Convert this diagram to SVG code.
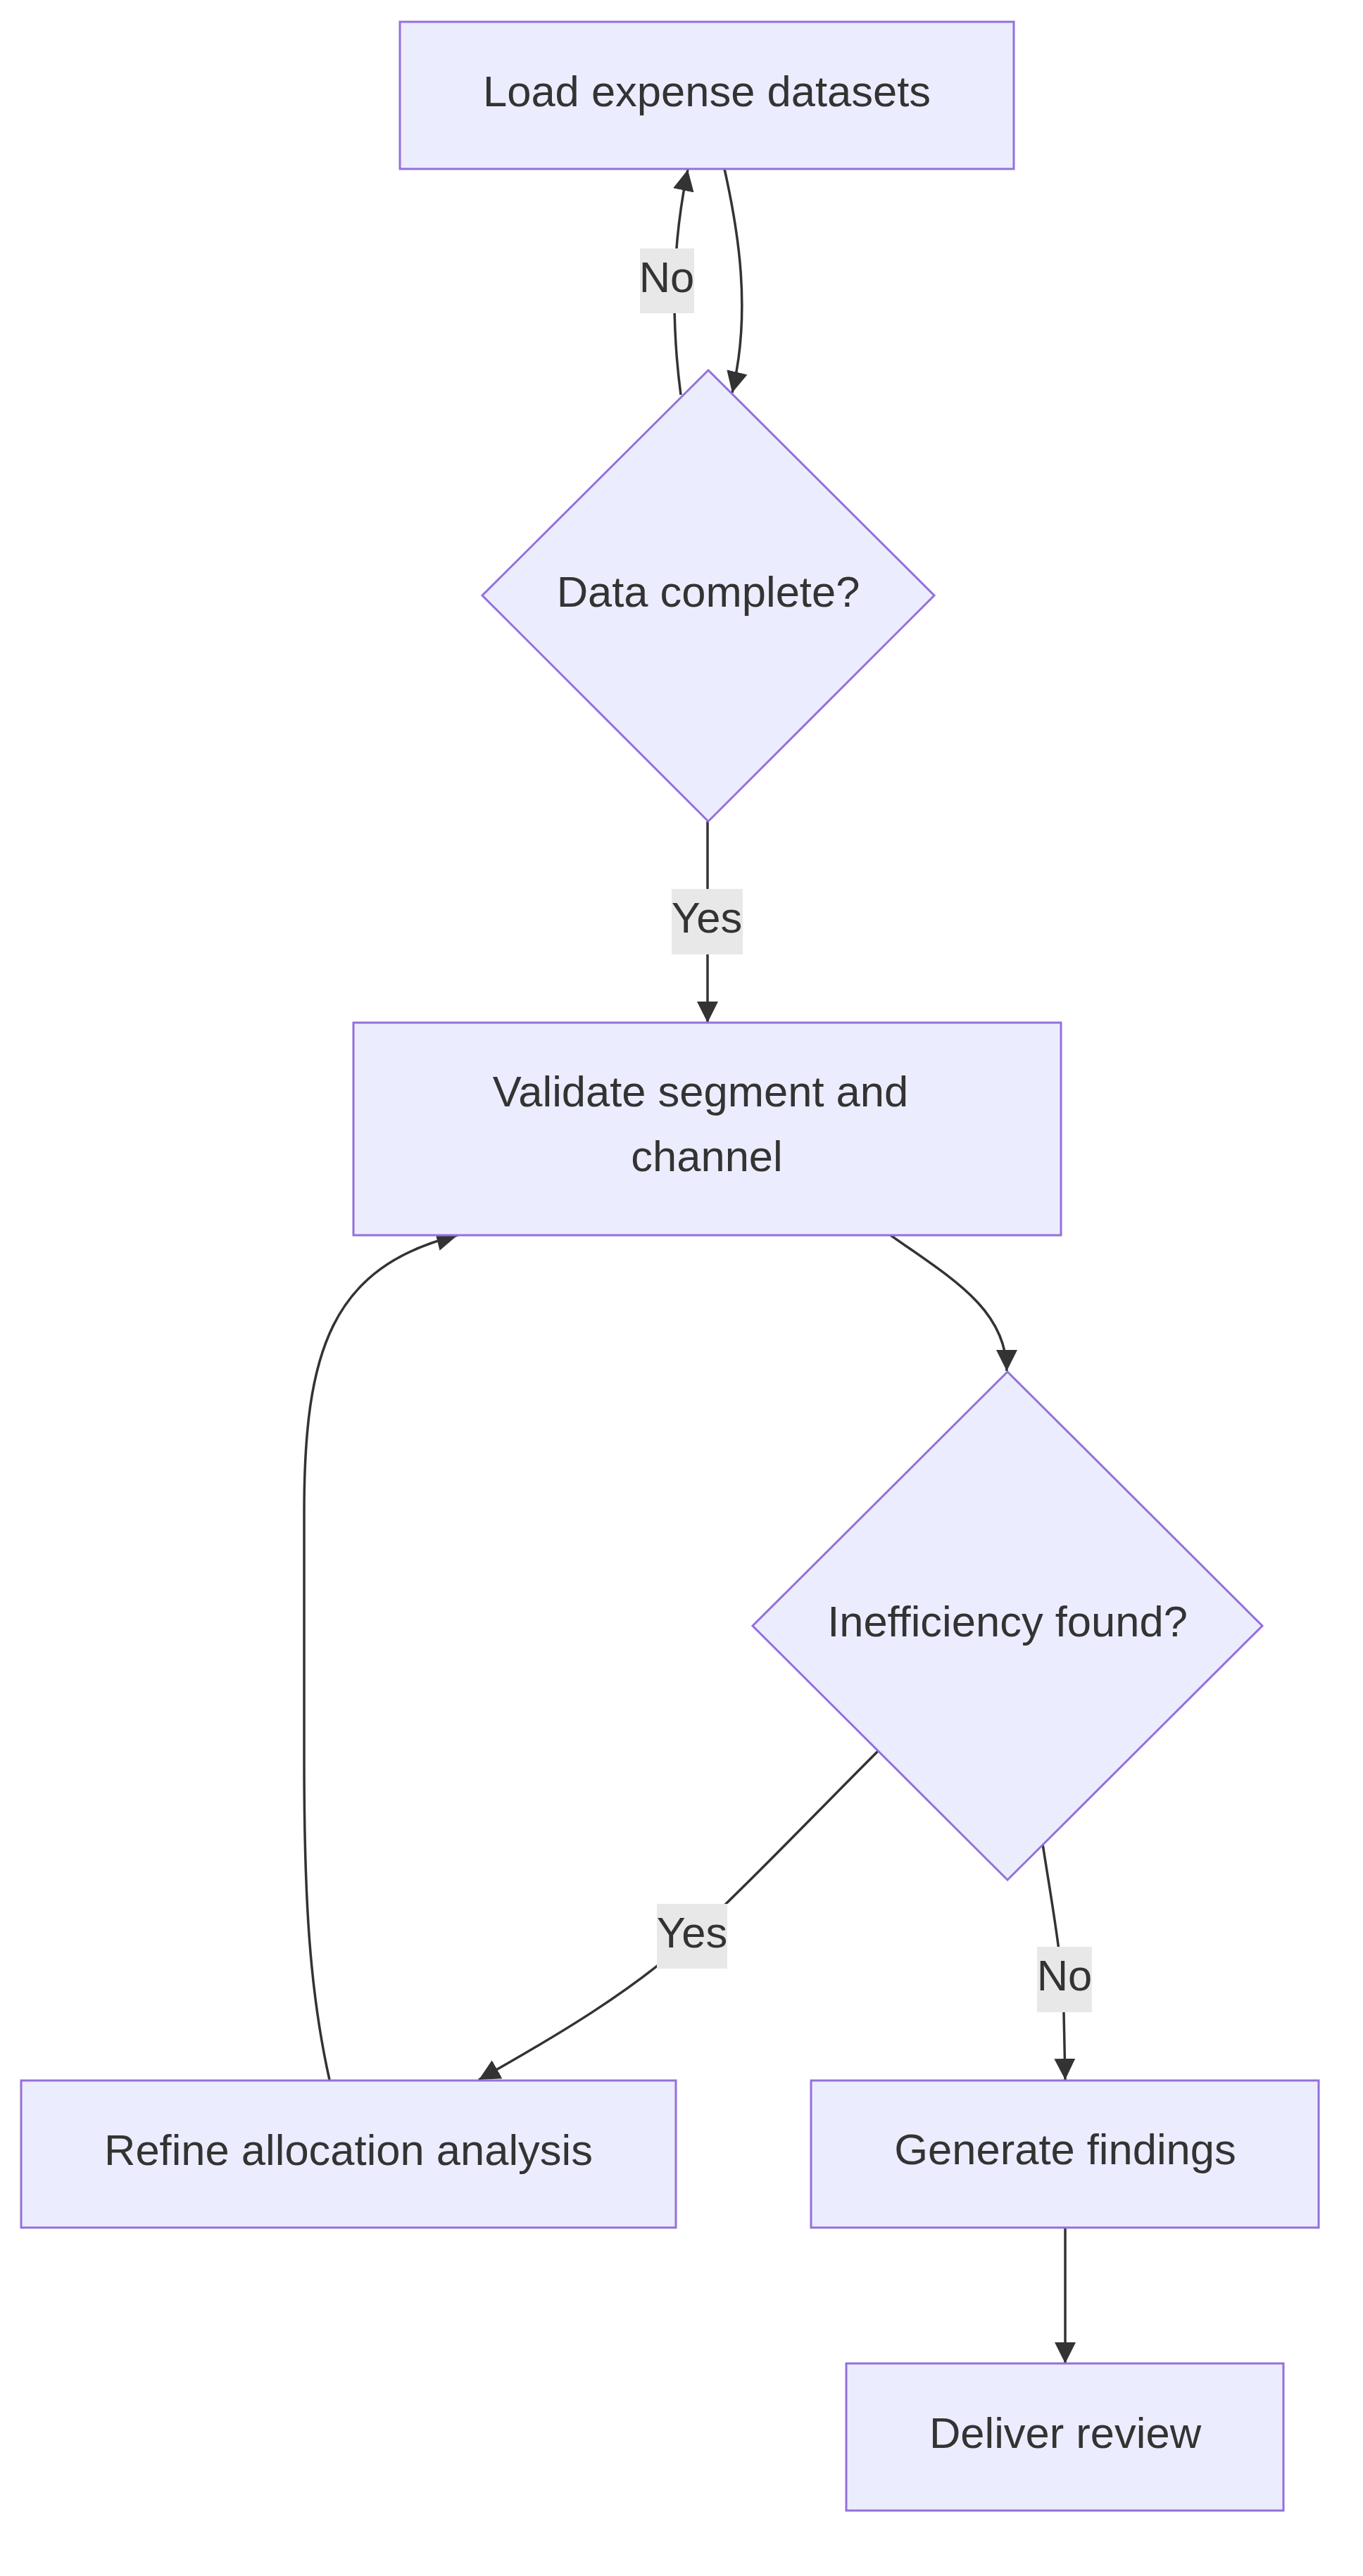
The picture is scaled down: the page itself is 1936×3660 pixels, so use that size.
<svg xmlns="http://www.w3.org/2000/svg" width="1936" height="3660" viewBox="0 0 1936 3660">
<style>
.node rect, .node polygon { fill: #ECECFF; stroke: #9370DB; stroke-width: 3; }
.lbl { font-family: "Liberation Sans", Arial, sans-serif; font-size: 61.5px; fill: #333333; text-anchor: middle; }
.edge { fill: none; stroke: #333333; stroke-width: 3.5; }
.elbg { fill: #e8e8e8; }
</style>
<defs>
<marker id="arr" viewBox="0 0 10 10" refX="10" refY="5" markerWidth="30" markerHeight="32" markerUnits="userSpaceOnUse" orient="auto">
<path d="M0,0 L10,5 L0,10 z" fill="#333333"/>
</marker>
</defs>
<rect width="1936" height="3660" fill="#ffffff"/>
<g id="edges">
<path class="edge" d="M1029,240 C1048,325 1068,440 1040,558" marker-end="url(#arr)"/>
<path class="edge" d="M967,561 C955,470 952,360 977,241" marker-end="url(#arr)"/>
<path class="edge" d="M1005,1167 L1005,1453" marker-end="url(#arr)"/>
<path class="edge" d="M1265,1755 C1350,1815 1430,1860 1430,1948" marker-end="url(#arr)"/>
<path class="edge" d="M1247,2488 C1150,2585 1060,2680 983,2751 C900,2828 790,2893 680,2955" marker-end="url(#arr)"/>
<path class="edge" d="M1481,2620 C1495,2710 1510,2790 1511,2860 L1513,2955" marker-end="url(#arr)"/>
<path class="edge" d="M1513,3165 L1513,3358" marker-end="url(#arr)"/>
<path class="edge" d="M468,2955 C440,2830 432,2700 432,2500 L432,2150 C432,1920 470,1800 650,1755" marker-end="url(#arr)"/>
</g>
<g id="edge-labels">
<g id="label-no1"><rect class="elbg" x="909" y="353" width="77" height="92"/><text class="lbl" x="947" y="415">No</text></g>
<g id="label-yes1"><rect class="elbg" x="954" y="1263" width="101" height="93"/><text class="lbl" x="1004" y="1325">Yes</text></g>
<g id="label-yes2"><rect class="elbg" x="933" y="2705" width="100" height="92"/><text class="lbl" x="983" y="2767">Yes</text></g>
<g id="label-no2"><rect class="elbg" x="1473" y="2766" width="78" height="93"/><text class="lbl" x="1512" y="2828">No</text></g>
</g>
<g id="n-load" class="node"><rect x="568" y="31" width="872" height="209"/><text class="lbl" x="1004" y="151">Load expense datasets</text></g>
<g id="n-complete" class="node"><polygon points="1006,526 1327,846 1006,1167 685,846"/><text class="lbl" x="1006" y="862">Data complete?</text></g>
<g id="n-validate" class="node"><rect x="502" y="1453" width="1005" height="302"/><text class="lbl" x="995" y="1572">Validate segment and</text><text class="lbl" x="1004" y="1664">channel</text></g>
<g id="n-ineff" class="node"><polygon points="1431,1949 1793,2310 1431,2671 1069,2310"/><text class="lbl" x="1431" y="2325">Inefficiency found?</text></g>
<g id="n-refine" class="node"><rect x="30" y="2956" width="930" height="209"/><text class="lbl" x="495" y="3076">Refine allocation analysis</text></g>
<g id="n-generate" class="node"><rect x="1152" y="2956" width="721" height="209"/><text class="lbl" x="1513" y="3075">Generate findings</text></g>
<g id="n-deliver" class="node"><rect x="1202" y="3358" width="621" height="209"/><text class="lbl" x="1513" y="3478">Deliver review</text></g>
</svg>
